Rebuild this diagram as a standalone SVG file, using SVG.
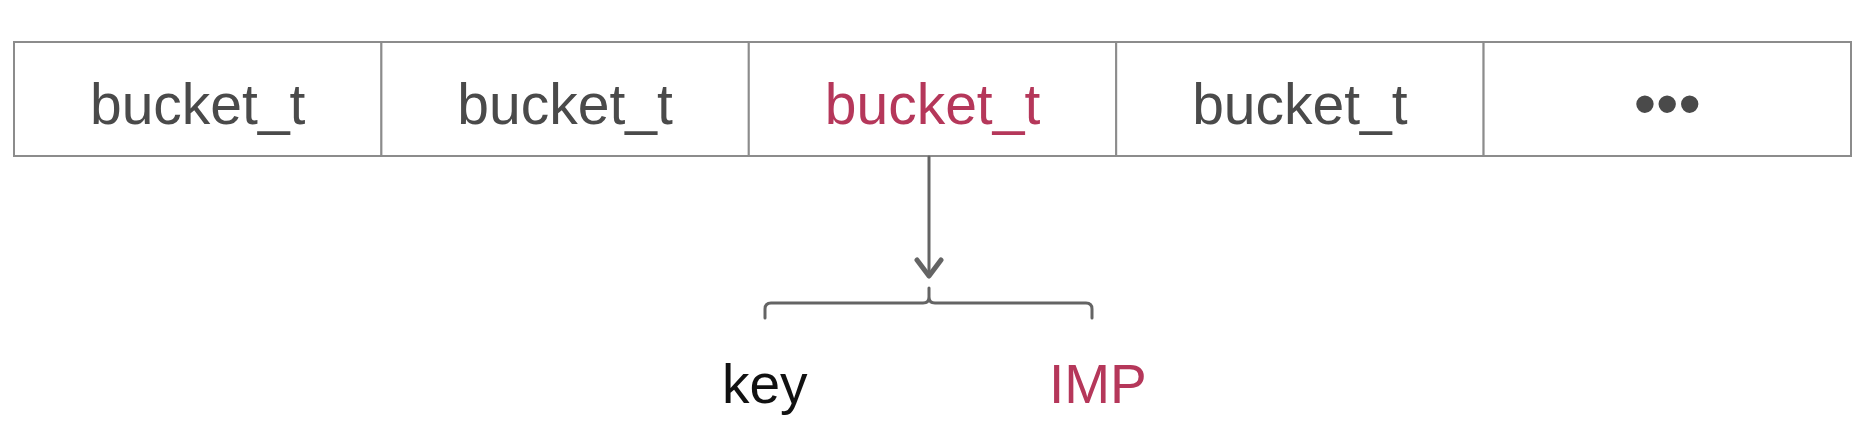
<svg xmlns="http://www.w3.org/2000/svg" width="1866" height="424" viewBox="0 0 1866 424">
<style>
.cell{fill:#fff;stroke:#8c8c8c;stroke-width:2}
.lbl{font-family:"Liberation Sans",Arial,sans-serif;font-size:57px;fill:#4a4a4a;text-anchor:middle}
.hl{fill:#b5375a}
.conn{fill:none;stroke:#646464;stroke-width:3;stroke-linecap:round;stroke-linejoin:round}
.big{font-family:"Liberation Sans",Arial,sans-serif;font-size:55px}
</style>
<defs>
<marker id="arr" viewBox="0 0 24 30" refX="20" refY="15" markerWidth="24" markerHeight="30" markerUnits="userSpaceOnUse" orient="auto">
<path d="M4,3 L20,15 L4,27" fill="none" stroke="#646464" stroke-width="5" stroke-linecap="round" stroke-linejoin="round"/>
</marker>
</defs>
<g id="bucket1"><rect class="cell" x="14" y="42" width="367.4" height="114"/><text class="lbl" x="197.7" y="124">bucket_t</text></g>
<g id="bucket2"><rect class="cell" x="381.4" y="42" width="367.4" height="114"/><text class="lbl" x="565.1" y="124">bucket_t</text></g>
<g id="bucket3"><rect class="cell" x="748.8" y="42" width="367.4" height="114"/><text class="lbl hl" x="932.5" y="124">bucket_t</text></g>
<g id="bucket4"><rect class="cell" x="1116.2" y="42" width="367.4" height="114"/><text class="lbl" x="1299.9" y="124">bucket_t</text></g>
<g id="more"><rect class="cell" x="1483.6" y="42" width="367.4" height="114"/><text class="lbl" x="1667.3" y="126" style="font-size:64px">•••</text></g>
<g id="connectors">
<path class="conn" d="M929,157 L929,276" marker-end="url(#arr)"/>
<path class="conn" d="M765,318 L765,309 Q765,303 771,303 L923,303 Q929,303 929,297 L929,288 L929,297 Q929,303 935,303 L1086,303 Q1092,303 1092,309 L1092,318"/>
</g>
<g id="key"><text class="big" x="722" y="403" fill="#111">key</text></g>
<g id="imp"><text class="big" x="1049" y="403" fill="#b5375a">IMP</text></g>
</svg>
